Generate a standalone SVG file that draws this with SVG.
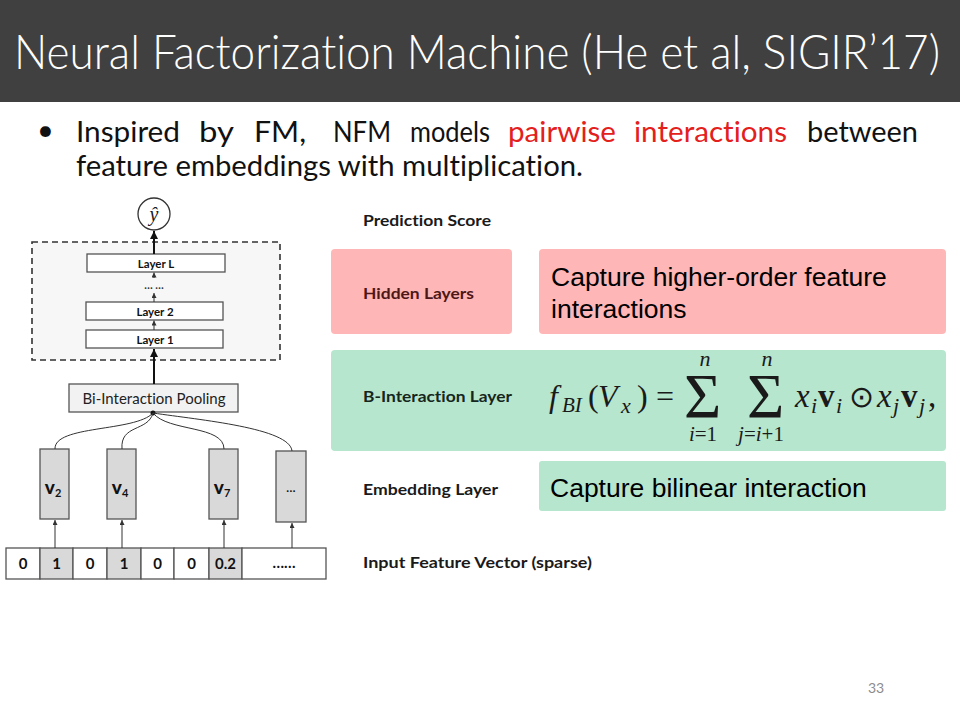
<svg xmlns="http://www.w3.org/2000/svg" width="960" height="720" viewBox="0 0 960 720">
<style>
text{font-variant-ligatures:none;font-kerning:normal}
.cal{font-family:Lato,"Open Sans","Liberation Sans",sans-serif}
.lbl{font-family:Lato,"Open Sans","Liberation Sans",sans-serif;font-weight:bold;font-size:15px;fill:#1a1a1a}
.arial{font-family:"Liberation Sans",Arial,sans-serif;font-size:26.5px;fill:#000}
.box{fill:#fff;stroke:#555;stroke-width:1.3}
.emb{fill:#d9d9d9;stroke:#555;stroke-width:1.3}
.cell{font-family:Lato,"Open Sans","Liberation Sans",sans-serif;font-weight:bold;font-size:15px;fill:#111;text-anchor:middle}
.ln{stroke:#111;stroke-width:2;fill:none}
.thin{stroke:#333;stroke-width:1;fill:none}
.m{font-family:"Liberation Serif","Times New Roman",serif;fill:#1a1a1a}
.it{font-style:italic}
.bw{font-family:Lato,"Open Sans","Liberation Sans",sans-serif;font-size:29px;fill:#111}
.bw.red{fill:#e3201c}
</style>
<defs>
<marker id="ah" viewBox="0 0 10 10" refX="10" refY="5" markerWidth="4" markerHeight="4" orient="auto" markerUnits="strokeWidth">
<path d="M0,0 L10,5 L0,10 z" fill="#111"/>
</marker>
<marker id="ahs" viewBox="0 0 10 10" refX="10" refY="5" markerWidth="5" markerHeight="5" orient="auto" markerUnits="strokeWidth">
<path d="M0,0 L10,5 L0,10 z" fill="#333"/>
</marker>
</defs>
<rect width="960" height="720" fill="#fff"/>
<g id="title">
<rect x="0" y="0" width="960" height="102" fill="#404040"/>
<text x="14" y="69" class="cal" font-size="48" font-weight="300" fill="#fff" textLength="926" lengthAdjust="spacingAndGlyphs">Neural Factorization Machine (He et al, SIGIR’17)</text>
</g>
<g id="bullet">
<text x="37" y="140" class="bw" font-size="22">•</text>
<text x="76" y="142" class="bw" textLength="104" lengthAdjust="spacingAndGlyphs">Inspired</text>
<text x="199" y="142" class="bw" textLength="35" lengthAdjust="spacingAndGlyphs">by</text>
<text x="254" y="142" class="bw" textLength="52" lengthAdjust="spacingAndGlyphs">FM,</text>
<text x="333" y="142" class="bw" textLength="58" lengthAdjust="spacingAndGlyphs">NFM</text>
<text x="410" y="142" class="bw" textLength="80" lengthAdjust="spacingAndGlyphs">models</text>
<text x="508" y="142" class="bw red" textLength="108" lengthAdjust="spacingAndGlyphs">pairwise</text>
<text x="634" y="142" class="bw red" textLength="153" lengthAdjust="spacingAndGlyphs">interactions</text>
<text x="807" y="142" class="bw" textLength="111" lengthAdjust="spacingAndGlyphs">between</text>
<text x="76" y="176" class="bw" textLength="507" lengthAdjust="spacingAndGlyphs">feature embeddings with multiplication.</text>
</g>
<g id="hidden-group">
<rect x="32" y="242" width="248" height="118" fill="#f7f7f7" stroke="#333" stroke-width="1.6" stroke-dasharray="6,4"/>
</g>
<g id="y-hat">
<circle cx="154" cy="214" r="16" fill="#fff" stroke="#333" stroke-width="1.3"/>
<text x="154" y="221" class="m it" font-size="20" text-anchor="middle">ŷ</text>
</g>
<g id="layer-L">
<rect x="87" y="254" width="138" height="18" class="box"/>
<text x="156" y="267.5" class="cal" font-weight="bold" font-size="11.5" text-anchor="middle" fill="#111">Layer L</text>
</g>
<g id="dots-layer">
<text x="154" y="289" class="cal" font-weight="bold" font-size="11" text-anchor="middle" fill="#333">… …</text>
</g>
<g id="layer-2">
<rect x="86" y="302" width="137" height="18" class="box"/>
<text x="155" y="315.5" class="cal" font-weight="bold" font-size="11.5" text-anchor="middle" fill="#111">Layer 2</text>
</g>
<g id="layer-1">
<rect x="86" y="330" width="137" height="18" class="box"/>
<text x="155" y="343.5" class="cal" font-weight="bold" font-size="11.5" text-anchor="middle" fill="#111">Layer 1</text>
</g>
<g id="bi-pooling">
<rect x="69" y="384" width="169" height="28" fill="#f2f2f2" stroke="#555" stroke-width="1.3"/>
<text x="154" y="403.5" class="cal" font-size="15" text-anchor="middle" fill="#222">Bi-Interaction Pooling</text>
</g>
<g id="emb-v2">
<rect x="40" y="449" width="29" height="70" class="emb"/>
<text x="53" y="494" class="cal" font-weight="900" font-size="19" text-anchor="middle" fill="#111">v<tspan font-size="11" font-weight="bold" dy="3">2</tspan></text>
</g>
<g id="emb-v4">
<rect x="107" y="449" width="29" height="70" class="emb"/>
<text x="120" y="494" class="cal" font-weight="900" font-size="19" text-anchor="middle" fill="#111">v<tspan font-size="11" font-weight="bold" dy="3">4</tspan></text>
</g>
<g id="emb-v7">
<rect x="209" y="449" width="29" height="70" class="emb"/>
<text x="222" y="494" class="cal" font-weight="900" font-size="19" text-anchor="middle" fill="#111">v<tspan font-size="11" font-weight="bold" dy="3">7</tspan></text>
</g>
<g id="emb-more">
<rect x="276" y="451" width="30" height="71" class="emb"/>
<text x="291" y="492" class="cal" font-weight="bold" font-size="12" text-anchor="middle" fill="#111">…</text>
</g>
<g id="input-vector">
<rect x="6" y="548" width="34" height="31" class="box"/>
<rect x="40" y="548" width="33" height="31" class="emb"/>
<rect x="73" y="548" width="34" height="31" class="box"/>
<rect x="107" y="548" width="34" height="31" class="emb"/>
<rect x="141" y="548" width="33" height="31" class="box"/>
<rect x="174" y="548" width="35" height="31" class="box"/>
<rect x="209" y="548" width="33" height="31" class="emb"/>
<rect x="242" y="548" width="84" height="31" class="box"/>
<text x="23" y="569" class="cell">0</text>
<text x="56.5" y="569" class="cell">1</text>
<text x="90" y="569" class="cell">0</text>
<text x="124" y="569" class="cell">1</text>
<text x="157.5" y="569" class="cell">0</text>
<text x="191.5" y="569" class="cell">0</text>
<text x="225.5" y="569" class="cell">0.2</text>
<text x="284" y="568" class="cell" font-size="12">……</text>
</g>
<g id="connectors">
<line x1="154" y1="242" x2="154" y2="231" class="ln" marker-end="url(#ah)"/>
<line x1="154" y1="254" x2="154" y2="242" class="ln"/>
<line x1="154" y1="278" x2="154" y2="272.5" class="thin" marker-end="url(#ahs)"/>
<line x1="154" y1="302" x2="154" y2="293" class="thin" marker-end="url(#ahs)"/>
<line x1="154" y1="330" x2="154" y2="320.5" class="thin" marker-end="url(#ahs)"/>
<line x1="154" y1="384" x2="154" y2="349" class="ln" marker-end="url(#ah)"/>
<circle cx="153" cy="413" r="2.5" fill="#111"/>
<path d="M55,449 C54,425 135,432 153,413" class="thin"/>
<path d="M122,449 C120,424 148,432 153,413" class="thin"/>
<path d="M224,449 C224,425 168,432 153,413" class="thin"/>
<path d="M292,451 C290,428 200,420 153,413" class="thin"/>
<line x1="55" y1="548" x2="55" y2="520" class="thin" marker-end="url(#ahs)"/>
<line x1="122" y1="548" x2="122" y2="520" class="thin" marker-end="url(#ahs)"/>
<line x1="224" y1="548" x2="224" y2="520" class="thin" marker-end="url(#ahs)"/>
<line x1="292" y1="548" x2="292" y2="523" class="thin" marker-end="url(#ahs)"/>
</g>
<g id="prediction-score">
<text x="363" y="226" class="lbl" textLength="128" lengthAdjust="spacingAndGlyphs">Prediction Score</text>
</g>
<g id="hidden-layers">
<rect x="331" y="249" width="181" height="85" rx="4" fill="#ffb6b6"/>
<text x="363" y="299" class="lbl" style="fill:#4e1717" textLength="111" lengthAdjust="spacingAndGlyphs">Hidden Layers</text>
</g>
<g id="hidden-desc">
<rect x="539" y="249" width="407" height="85" rx="4" fill="#ffb6b6"/>
<text x="551" y="286" class="arial">Capture higher-order feature</text>
<text x="551" y="318" class="arial">interactions</text>
</g>
<g id="bi-interaction-layer">
<rect x="331" y="350" width="615" height="101" rx="4" fill="#b6e6cd"/>
<text x="363" y="402" class="lbl" style="fill:#16261c" textLength="149" lengthAdjust="spacingAndGlyphs">B-Interaction Layer</text>
<g class="m">
<text x="549" y="407" class="it" font-size="32">f</text>
<text x="562" y="412" class="it" font-size="21">BI</text>
<text x="588" y="407" font-size="32">(</text>
<text x="598" y="407" class="it" font-size="32">V</text>
<text x="621" y="413" class="it" font-size="22">x</text>
<text x="637" y="407" font-size="32">)</text>
<text x="656" y="407" font-size="32">=</text>
<text x="684" y="418" font-size="64">Σ</text>
<text x="705" y="366" class="it" font-size="22" text-anchor="middle">n</text>
<text x="703" y="441" font-size="21" text-anchor="middle"><tspan class="it">i</tspan>=1</text>
<text x="747" y="418" font-size="64">Σ</text>
<text x="767" y="366" class="it" font-size="22" text-anchor="middle">n</text>
<text x="761" y="441" font-size="21" text-anchor="middle"><tspan class="it">j</tspan>=<tspan class="it">i</tspan>+1</text>
<text x="795" y="407" class="it" font-size="33">x</text>
<text x="811" y="413" class="it" font-size="22">i</text>
<text x="818" y="407" font-size="33" font-weight="bold">v</text>
<text x="836" y="413" class="it" font-size="22">i</text>
<text x="849" y="407" font-size="30">⊙</text>
<text x="877" y="407" class="it" font-size="33">x</text>
<text x="893" y="413" class="it" font-size="22">j</text>
<text x="901" y="407" font-size="33" font-weight="bold">v</text>
<text x="919" y="413" class="it" font-size="22">j</text>
<text x="928" y="407" font-size="33">,</text>
</g>
</g>
<g id="embedding-layer">
<text x="363" y="495" class="lbl" textLength="135" lengthAdjust="spacingAndGlyphs">Embedding Layer</text>
</g>
<g id="embedding-desc">
<rect x="539" y="461" width="407" height="50" rx="3" fill="#b6e6cd"/>
<text x="550" y="497" class="arial">Capture bilinear interaction</text>
</g>
<g id="input-label">
<text x="363" y="568" class="lbl" textLength="229" lengthAdjust="spacingAndGlyphs">Input Feature Vector (sparse)</text>
</g>
<g id="page-number">
<text x="876" y="693" class="cal" font-size="14" fill="#8c8c8c" text-anchor="middle">33</text>
</g>
</svg>
